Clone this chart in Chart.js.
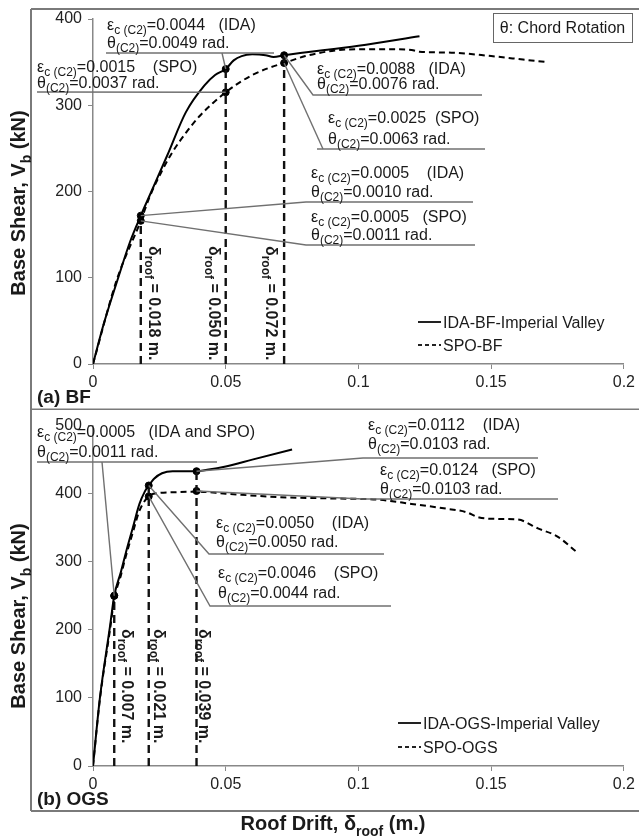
<!DOCTYPE html>
<html>
<head>
<meta charset="utf-8">
<title>Base shear vs roof drift</title>
<script src="https://cdn.jsdelivr.net/npm/chart.js@4.4.1/dist/chart.umd.min.js"></script>
<style>
  body { margin: 0; background: #fff; }
  #wrap { position: relative; width: 639px; height: 836px; }
  #wrap canvas { position: absolute; left: 0; }
</style>
</head>
<body>
<div id="wrap">
  <canvas id="chartBF" width="639" height="410" style="top:0"></canvas>
  <canvas id="chartOGS" width="639" height="426" style="top:410px"></canvas>
</div>
<script>
// ---- data ----
const driftTicks = [0, 0.05, 0.1, 0.15, 0.2];
const bfShearTicks = [0, 100, 200, 300, 400];
const ogsShearTicks = [0, 100, 200, 300, 400, 500];

// (a) BF
const bfIdaDrift = [0, 0.004, 0.0095, 0.014, 0.018, 0.022, 0.028, 0.035, 0.042, 0.046, 0.05, 0.053, 0.056, 0.06, 0.065, 0.068, 0.072, 0.1, 0.123];
const bfIdaShear = [0, 46, 100, 142, 172, 200, 242, 292, 323, 335, 342, 352, 357, 359, 358, 356, 358, 369, 380];
const bfSpoDrift = [0, 0.009, 0.018, 0.0215, 0.026, 0.03, 0.035, 0.04, 0.045, 0.05, 0.055, 0.06, 0.066, 0.072, 0.08, 0.09, 0.1, 0.11, 0.12, 0.123, 0.135, 0.15, 0.162, 0.171];
const bfSpoShear = [0, 98, 166, 195, 224, 246, 268, 287, 302, 315, 326, 335, 343, 349, 357, 363, 365, 365, 364, 362, 361, 357, 353, 350];
const bfMarkDrift = [0.018, 0.050, 0.072];
const bfMarkIda = [172, 342, 358];
const bfMarkSpo = [166, 315, 349];
const bfMarkLabels = ['δ_{roof} = 0.018 m.', 'δ_{roof} = 0.050 m.', 'δ_{roof} = 0.072 m.'];
const bfLegend = ['IDA-BF-Imperial Valley', 'SPO-BF'];

// (b) OGS
const ogsIdaDrift = [0, 0.0026, 0.0064, 0.008, 0.0105, 0.0125, 0.015, 0.0175, 0.0195, 0.021, 0.023, 0.026, 0.03, 0.035, 0.039, 0.043, 0.05, 0.06, 0.075];
const ogsIdaShear = [0, 100, 205, 250, 285, 315, 350, 385, 403, 412, 422, 430, 433, 433, 433, 435, 440, 450, 465];
const ogsSpoDrift = [0, 0.0026, 0.0064, 0.008, 0.0105, 0.0125, 0.015, 0.0175, 0.021, 0.025, 0.03, 0.039, 0.05, 0.07, 0.09, 0.108, 0.12, 0.133, 0.1405, 0.1455, 0.152, 0.16, 0.1676, 0.175, 0.182];
const ogsSpoShear = [0, 98, 200, 245, 280, 310, 343, 375, 396, 401, 402, 403, 400, 395, 393, 391, 385, 378, 373, 365, 363, 362, 349, 337, 315];
const ogsMarkDrift = [0.008, 0.021, 0.039];
const ogsMarkIda = [250, 412, 433];
const ogsMarkSpo = [250, 396, 404];
const ogsMarkLabels = ['δ_{roof} = 0.007 m.', 'δ_{roof} = 0.021 m.', 'δ_{roof} = 0.039 m.'];
const ogsLegend = ['IDA-OGS-Imperial Valley', 'SPO-OGS'];

const FONT = '"Liberation Sans", Arial, Helvetica, sans-serif';
const INK = '#1a1a1a';
const GUIDE = '#707070';
const FRAME = '#7a7a7a';

// "_{...}" marks a subscript
function parseRich(str) {
  const parts = [];
  const re = /_\{([^}]*)\}/g;
  let last = 0, m;
  while ((m = re.exec(str))) {
    if (m.index > last) parts.push([str.slice(last, m.index), false]);
    parts.push([m[1], true]);
    last = re.lastIndex;
  }
  if (last < str.length) parts.push([str.slice(last), false]);
  return parts;
}

function richWidth(ctx, str, size, weight) {
  let w = 0;
  parseRich(str).forEach(([t, sub]) => {
    ctx.font = `${weight} ${sub ? Math.round(size * 0.72) : size}px ${FONT}`;
    w += ctx.measureText(t).width;
  });
  return w;
}

function drawRich(ctx, str, x, y, size, weight) {
  let cx = x;
  ctx.textBaseline = 'alphabetic';
  ctx.textAlign = 'left';
  parseRich(str).forEach(([t, sub]) => {
    ctx.font = `${weight} ${sub ? Math.round(size * 0.72) : size}px ${FONT}`;
    ctx.fillText(t, cx, y + (sub ? size * 0.28 : 0));
    cx += ctx.measureText(t).width;
  });
}

function pts(xs, ys) {
  return xs.map((x, i) => ({ x: x, y: ys[i] }));
}

function panelPlugin(p) {
  return {
    id: 'panel_' + p.name,
    afterDatasetsDraw(chart) {
      const ctx = chart.ctx;
      const xs = chart.scales.x, ys = chart.scales.y;
      const oy = p.offsetY;
      ctx.save();
      ctx.fillStyle = INK;

      // outer frame
      ctx.strokeStyle = FRAME;
      ctx.lineWidth = 2;
      ctx.beginPath();
      p.frame.forEach((seg) => {
        ctx.moveTo(seg[0], seg[1] - oy);
        ctx.lineTo(seg[2], seg[3] - oy);
      });
      ctx.stroke();

      // leaders, underlines, notes
      p.notes.forEach((n) => {
        const vals = n.series === 'ida' ? p.markIda : p.markSpo;
        const tx = xs.getPixelForValue(p.markDrift[n.mark]);
        const ty = ys.getPixelForValue(vals[n.mark]);
        ctx.strokeStyle = GUIDE;
        ctx.lineWidth = 1.4;
        ctx.beginPath();
        ctx.moveTo(tx, ty);
        n.leader.forEach((q) => ctx.lineTo(q[0], q[1] - oy));
        ctx.stroke();
        if (n.ul) {
          ctx.beginPath();
          ctx.moveTo(n.ul[0], n.ul[2] - oy);
          ctx.lineTo(n.ul[1], n.ul[2] - oy);
          ctx.stroke();
        }
        n.lines.forEach((s, i) => drawRich(ctx, s, n.x, n.base[i] - oy, 16, 'normal'));
      });

      // rotated drift labels next to the dashed verticals
      p.markLabels.forEach((s, i) => {
        ctx.save();
        ctx.translate(p.vlabX[i], p.vlabY - oy);
        ctx.rotate(Math.PI / 2);
        drawRich(ctx, s, 0, 5.8, 16, 'bold');
        ctx.restore();
      });

      // legend
      p.legend.forEach((label, i) => {
        const y = p.legendY[i] - oy;
        ctx.strokeStyle = '#222';
        ctx.lineWidth = 2;
        ctx.setLineDash(i === 0 ? [] : [4, 3]);
        ctx.beginPath();
        ctx.moveTo(p.legendX, y);
        ctx.lineTo(p.legendX + 23, y);
        ctx.stroke();
        ctx.setLineDash([]);
        drawRich(ctx, label, p.legendX + 25, y + 6, 16, 'normal');
      });

      // chord rotation box
      if (p.box) {
        const b = p.box;
        ctx.strokeStyle = '#666';
        ctx.lineWidth = 1;
        ctx.strokeRect(b.x + 0.5, b.y - oy + 0.5, b.w, b.h);
        ctx.font = `16px ${FONT}`;
        ctx.textAlign = 'center';
        ctx.textBaseline = 'middle';
        ctx.fillText(b.text, b.x + b.w / 2, b.y - oy + b.h / 2 + 1);
      }

      // panel tag
      drawRich(ctx, p.tag, 37, p.tagY - oy, 19, 'bold');

      // y title
      const yt = 'Base Shear, V_{b} (kN)';
      ctx.save();
      ctx.translate(18, p.yTitleY - oy);
      ctx.rotate(-Math.PI / 2);
      drawRich(ctx, yt, -richWidth(ctx, yt, 20, 'bold') / 2, 7, 20, 'bold');
      ctx.restore();

      // x title
      if (p.xTitle) {
        const w = richWidth(ctx, p.xTitle, 20, 'bold');
        drawRich(ctx, p.xTitle, 333 - w / 2, 830 - oy, 20, 'bold');
      }
      ctx.restore();
    }
  };
}

function buildChart(canvasId, p) {
  const dashed = p.markDrift.map((d, i) => ({
    data: [{ x: d, y: 0 }, { x: d, y: Math.max(p.markIda[i], p.markSpo[i]) }],
    showLine: true,
    borderColor: '#111',
    borderWidth: 2.4,
    borderDash: [8, 5],
    pointRadius: 0
  }));
  const config = {
    type: 'scatter',
    data: {
      datasets: [
        {
          label: p.legend[0],
          data: pts(p.idaDrift, p.idaShear),
          showLine: true,
          borderColor: '#000',
          borderWidth: 2,
          pointRadius: 0,
          cubicInterpolationMode: 'monotone'
        },
        {
          label: p.legend[1],
          data: pts(p.spoDrift, p.spoShear),
          showLine: true,
          borderColor: '#000',
          borderWidth: 2,
          borderDash: [6, 4],
          pointRadius: 0,
          cubicInterpolationMode: 'monotone'
        },
        ...dashed,
        {
          data: pts(p.markDrift, p.markIda),
          pointRadius: 3.5,
          pointBackgroundColor: '#000',
          pointBorderColor: '#000'
        },
        {
          data: pts(p.markDrift, p.markSpo),
          pointRadius: 3.5,
          pointBackgroundColor: '#000',
          pointBorderColor: '#000'
        }
      ]
    },
    options: {
      responsive: false,
      animation: false,
      events: [],
      layout: { padding: { left: 0, right: 14, top: p.padTop, bottom: 0 } },
      plugins: { legend: { display: false }, tooltip: { enabled: false } },
      scales: {
        x: {
          type: 'linear',
          min: 0,
          max: 0.2,
          border: { color: '#888', width: 1.5 },
          grid: { drawOnChartArea: false, color: '#888', tickLength: 5 },
          ticks: { font: { size: 16, family: FONT }, color: '#222', padding: 4, maxRotation: 0, callback: (v) => String(v) },
          afterBuildTicks: (s) => { s.ticks = driftTicks.map((v) => ({ value: v })); },
          afterFit: (s) => { s.height = p.xAxisH; }
        },
        y: {
          type: 'linear',
          min: 0,
          max: p.yMax,
          border: { color: '#888', width: 1.5 },
          grid: { drawOnChartArea: false, color: '#888', tickLength: 5 },
          ticks: { font: { size: 16, family: FONT }, color: '#222', padding: 6 },
          afterBuildTicks: (s) => { s.ticks = p.yTicks.map((v) => ({ value: v })); },
          afterFit: (s) => { s.width = 93; }
        }
      }
    },
    plugins: [panelPlugin(p)]
  };
  return new Chart(document.getElementById(canvasId), config);
}

buildChart('chartBF', {
  name: 'bf',
  offsetY: 0,
  padTop: 19,
  xAxisH: 46,
  yMax: 400,
  yTicks: bfShearTicks,
  idaDrift: bfIdaDrift, idaShear: bfIdaShear,
  spoDrift: bfSpoDrift, spoShear: bfSpoShear,
  markDrift: bfMarkDrift, markIda: bfMarkIda, markSpo: bfMarkSpo,
  markLabels: bfMarkLabels,
  vlabX: [155, 215, 272],
  vlabY: 246,
  legend: bfLegend,
  legendX: 418,
  legendY: [322, 345],
  tag: '(a) BF',
  tagY: 403,
  yTitleY: 203,
  frame: [[31, 9, 639, 9], [31, 9, 31, 410], [31, 409.5, 639, 409.5]],
  box: { x: 493, y: 13, w: 139, h: 29, text: 'θ: Chord Rotation' },
  notes: [
    { series: 'ida', mark: 1, x: 107, base: [30, 48], lines: ['ε_{c (C2)}=0.0044   (IDA)', 'θ_{(C2)}=0.0049 rad.'], leader: [[222, 53]], ul: [106, 274, 53] },
    { series: 'spo', mark: 1, x: 37, base: [72, 88], lines: ['ε_{c (C2)}=0.0015    (SPO)', 'θ_{(C2)}=0.0037 rad.'], leader: [[37, 92]] },
    { series: 'ida', mark: 2, x: 317, base: [74, 89], lines: ['ε_{c (C2)}=0.0088   (IDA)', 'θ_{(C2)}=0.0076 rad.'], leader: [[313, 95], [482, 95]] },
    { series: 'spo', mark: 2, x: 328, base: [123, 144], lines: ['ε_{c (C2)}=0.0025  (SPO)', 'θ_{(C2)}=0.0063 rad.'], leader: [[323, 149]], ul: [317, 485, 149] },
    { series: 'ida', mark: 0, x: 311, base: [178, 197], lines: ['ε_{c (C2)}=0.0005    (IDA)', 'θ_{(C2)}=0.0010 rad.'], leader: [[306, 202], [473, 202]] },
    { series: 'spo', mark: 0, x: 311, base: [222, 240], lines: ['ε_{c (C2)}=0.0005   (SPO)', 'θ_{(C2)}=0.0011 rad.'], leader: [[306, 245], [475, 245]] }
  ]
});

buildChart('chartOGS', {
  name: 'ogs',
  offsetY: 410,
  padTop: 13,
  xAxisH: 70,
  yMax: 500,
  yTicks: ogsShearTicks,
  idaDrift: ogsIdaDrift, idaShear: ogsIdaShear,
  spoDrift: ogsSpoDrift, spoShear: ogsSpoShear,
  markDrift: ogsMarkDrift, markIda: ogsMarkIda, markSpo: ogsMarkSpo,
  markLabels: ogsMarkLabels,
  vlabX: [128, 160, 205],
  vlabY: 629,
  legend: ogsLegend,
  legendX: 398,
  legendY: [723, 747],
  tag: '(b) OGS',
  tagY: 805,
  yTitleY: 616,
  xTitle: 'Roof Drift, δ_{roof} (m.)',
  frame: [[31, 410, 31, 811], [31, 811, 639, 811]],
  notes: [
    { series: 'ida', mark: 0, x: 37, base: [437, 457], lines: ['ε_{c (C2)}=0.0005   (IDA and SPO)', 'θ_{(C2)}=0.0011 rad.'], leader: [[102, 462]], ul: [37, 217, 462] },
    { series: 'ida', mark: 2, x: 368, base: [430, 449], lines: ['ε_{c (C2)}=0.0112    (IDA)', 'θ_{(C2)}=0.0103 rad.'], leader: [[363, 458], [538, 458]] },
    { series: 'spo', mark: 2, x: 380, base: [475, 494], lines: ['ε_{c (C2)}=0.0124   (SPO)', 'θ_{(C2)}=0.0103 rad.'], leader: [[363, 499], [558, 499]] },
    { series: 'ida', mark: 1, x: 216, base: [528, 547], lines: ['ε_{c (C2)}=0.0050    (IDA)', 'θ_{(C2)}=0.0050 rad.'], leader: [[209, 554], [384, 554]] },
    { series: 'spo', mark: 1, x: 218, base: [578, 598], lines: ['ε_{c (C2)}=0.0046    (SPO)', 'θ_{(C2)}=0.0044 rad.'], leader: [[210, 606], [391, 606]] }
  ]
});
</script>
</body>
</html>
